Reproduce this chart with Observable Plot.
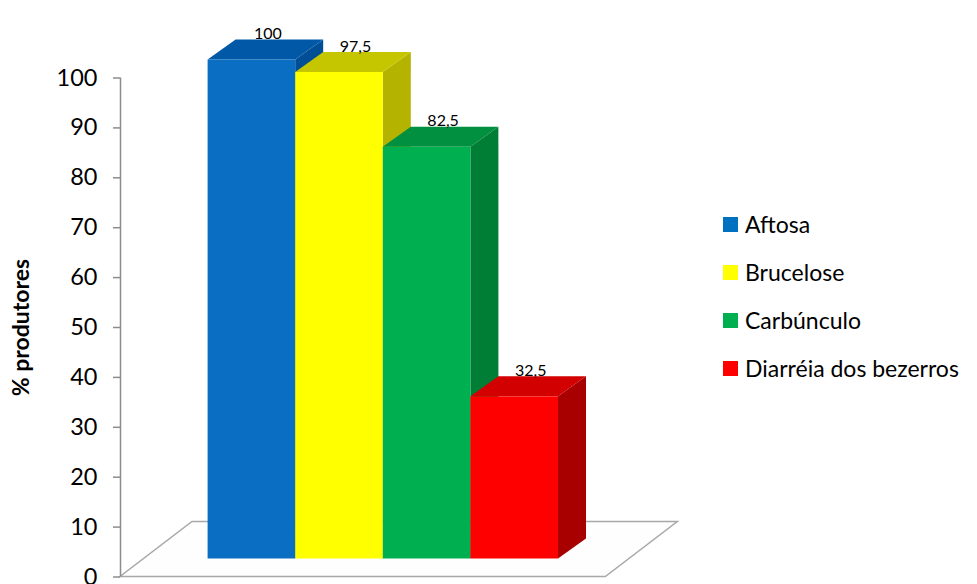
<!DOCTYPE html>
<html>
<head>
<meta charset="utf-8">
<script src="https://cdn.jsdelivr.net/npm/d3@7"></script>
<script src="https://cdn.jsdelivr.net/npm/@observablehq/plot@0.6"></script>
<style>
  html, body { margin: 0; padding: 0; background: #fff; }
  #wrap { position: relative; width: 977px; height: 584px; font-family: Lato, "Open Sans", sans-serif; }
  #wrap svg { display: block; overflow: visible; }
  #legend { position: absolute; left: 723px; top: 200px; }
  .item { display: flex; align-items: center; height: 48px; font-size: 23px; color: #000; white-space: nowrap; }
  .sw { width: 15px; height: 15px; margin-right: 7px; flex: none; }
</style>
</head>
<body>
<div id="wrap"><div id="legend"></div></div>
<script>
// ---- data ----
const categories = ["Aftosa", "Brucelose", "Carbúnculo", "Diarréia dos bezerros"];
const values = [100, 97.5, 82.5, 32.5];
const frontColors = ["#0A6EC2", "#FFFF00", "#00B050", "#FF0000"];
const topColors = ["#0058A6", "#C6C600", "#009040", "#D20000"];
const sideColors = ["#004F96", "#B4B400", "#007E36", "#A80000"];
const legendColors = ["#0070C0", "#FFFF00", "#00B050", "#FF0000"];
const yTicks = [0, 10, 20, 30, 40, 50, 60, 70, 80, 90, 100];
const yLabel = "% produtores";

// ---- 3D styling (pixels) ----
const lift = -18;          // front face raised above the floor front edge
const depthX = 28, depthY = -20;   // bar depth
const floorDX = 72, floorDY = -55; // floor depth
const floorEnd = categories.length + 1.54; // floor right extent in band units

const bars = categories.map((c, i) => ({category: c, value: values[i], pos: i + 1}));
const fmt = v => String(v).replace(".", ",");

function floorMark(index, {x, y}) {
  const x0 = x(0), x1 = x(floorEnd), y0 = y(0);
  const pts = [[x0, y0], [x1, y0], [x1 + floorDX, y0 + floorDY], [x0 + floorDX, y0 + floorDY]];
  const g = d3.create("svg:g");
  g.append("polygon")
    .attr("points", pts.map(p => p.join(",")).join(" "))
    .attr("fill", "#fefefe")
    .attr("stroke", "#a8a8a8")
    .attr("stroke-width", 1.5);
  return g.node();
}

function depthMark(index, {x, y}) {
  const g = d3.create("svg:g");
  bars.forEach((b, i) => {
    const x1 = x(b.pos), x2 = x(b.pos + 1);
    const yb = y(0) + lift, yt = y(b.value) + lift;
    const side = [[x2, yt], [x2 + depthX, yt + depthY], [x2 + depthX, yb + depthY], [x2, yb]];
    const top = [[x1, yt], [x2, yt], [x2 + depthX, yt + depthY], [x1 + depthX, yt + depthY]];
    g.append("polygon").attr("points", side.map(p => p.join(",")).join(" ")).attr("fill", sideColors[i]);
    g.append("polygon").attr("points", top.map(p => p.join(",")).join(" ")).attr("fill", topColors[i]);
  });
  return g.node();
}

const chart = Plot.plot({
  width: 977,
  height: 584,
  marginLeft: 120,
  marginRight: 0,
  marginTop: 77.5,
  marginBottom: 7.5,
  style: {fontFamily: "Lato, 'Open Sans', sans-serif", background: "transparent", color: "#000", overflow: "visible"},
  x: {domain: [0, 5], range: [120, 558], axis: null},
  y: {domain: [0, 100], range: [576.5, 77.5]},
  color: {domain: categories, range: frontColors},
  marks: [
    floorMark,
    Plot.ruleX([0], {y1: 0, y2: 100, stroke: "#8c8c8c", strokeWidth: 1.5}),
    Plot.axisY(yTicks, {tickSize: 7, tickPadding: 16, fontSize: 23.5, stroke: "#8c8c8c", fill: "#000", label: null, strokeWidth: 1.5}),
    depthMark,
    Plot.rect(bars, {x1: "pos", x2: d => d.pos + 1, y1: 0, y2: "value", fill: "category", dy: lift}),
    Plot.text(bars, {x: d => d.pos + 0.5, y: "value", text: d => fmt(d.value), dx: 16, dy: -44, fontSize: 16, fill: "#000"}),
    Plot.text([yLabel], {frameAnchor: "left", textAnchor: "middle", rotate: -90, dx: -99, text: d => d, fontSize: 23, fontWeight: "bold", fill: "#000"})
  ]
});
document.getElementById("wrap").prepend(chart);

const legend = d3.select("#legend");
categories.forEach((c, i) => {
  const item = legend.append("div").attr("class", "item");
  item.append("div").attr("class", "sw").style("background", legendColors[i]);
  item.append("span").text(c);
});
</script>
</body>
</html>
